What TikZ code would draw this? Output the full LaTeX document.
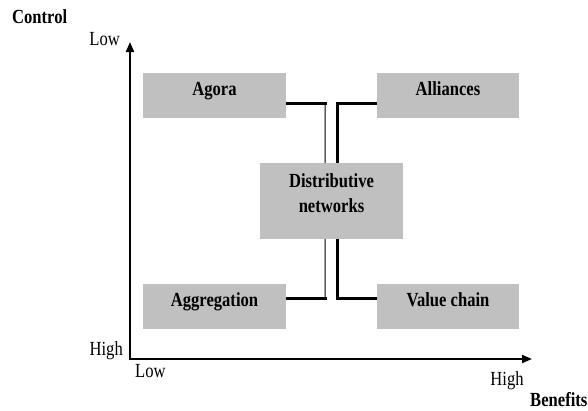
\documentclass[tikz,border=0pt]{standalone}
\usepackage{fontspec}
\setmainfont{Liberation Serif}[FakeStretch=0.83]
\usetikzlibrary{arrows.meta,calc}
\definecolor{boxgray}{HTML}{C0C0C0}
\begin{document}
\begin{tikzpicture}[x=1pt,y=-1pt,
  every node/.style={font=\fontsize{20}{25}\selectfont, inner sep=0pt},
  region/.style={fill=boxgray, font=\fontsize{20}{25}\selectfont\bfseries,
    minimum width=143pt, minimum height=45pt,
    text height=6pt, text depth=6pt, align=center},
  axes/.style={line width=2pt, miter limit=10,
    {Triangle[length=10pt,width=8pt]}-{Triangle[length=10pt,width=8pt]}},
  thinlink/.style={line width=1pt},
  thicklink/.style={line width=2.3pt},
  heavylink/.style={line width=2.8pt},
  axistitle/.style={anchor=base west, font=\fontsize{20}{25}\selectfont\bfseries}]
\useasboundingbox (0,0) rectangle (588,410);

% the five regions of the map
\node[region] (agora) at (214.5,95.5) {Agora};
\node[region, minimum width=142pt] (alliances) at (448,95.5) {Alliances};
\node[region, minimum height=76pt, text height=28pt, text depth=6pt]
  (distrib) at (331.5,201) {Distributive\\networks};
\node[region] (aggregation) at (214.5,306.5) {Aggregation};
\node[region, minimum width=142pt] (valuechain) at (448,306.5) {Value chain};

% axes
\coordinate (origin) at (130,359);
\coordinate (ytip) at (130,42);
\coordinate (xtip) at (532,359);
\draw[axes] (ytip) -- (origin) -- (xtip);

% links from the left regions (thin verticals)
\draw[thicklink] ($(agora.east)+(0,8)$) -- ++(41,0);
\draw[thinlink] ($(agora.east)+(39,7)$) -- ($(distrib.north)+(-6.5,0)$);
\draw[thicklink] ($(aggregation.east)+(0,-8)$) -- ++(41,0);
\draw[thinlink] ($(aggregation.east)+(39,-7)$) -- ($(distrib.south)+(-6.5,0)$);

% links from the right regions (heavy elbows)
\draw[heavylink] ($(alliances.west)+(0,8)$) -| ($(distrib.north)+(6,0)$);
\draw[heavylink] ($(valuechain.west)+(0,-8)$) -| ($(distrib.south)+(6,0)$);

% axis labels
\node[axistitle] (control) at (12,23) {Control};
\node[anchor=base east] (ctrllow) at (120,45) {Low};
\node[anchor=base east] (ctrlhigh) at (123,355) {High};
\node[anchor=base west] (benlow) at (135,377) {Low};
\node[anchor=base] (benhigh) at (507,385) {High};
\node[axistitle] (benefits) at (530,406) {Benefits};
\end{tikzpicture}
\end{document}
